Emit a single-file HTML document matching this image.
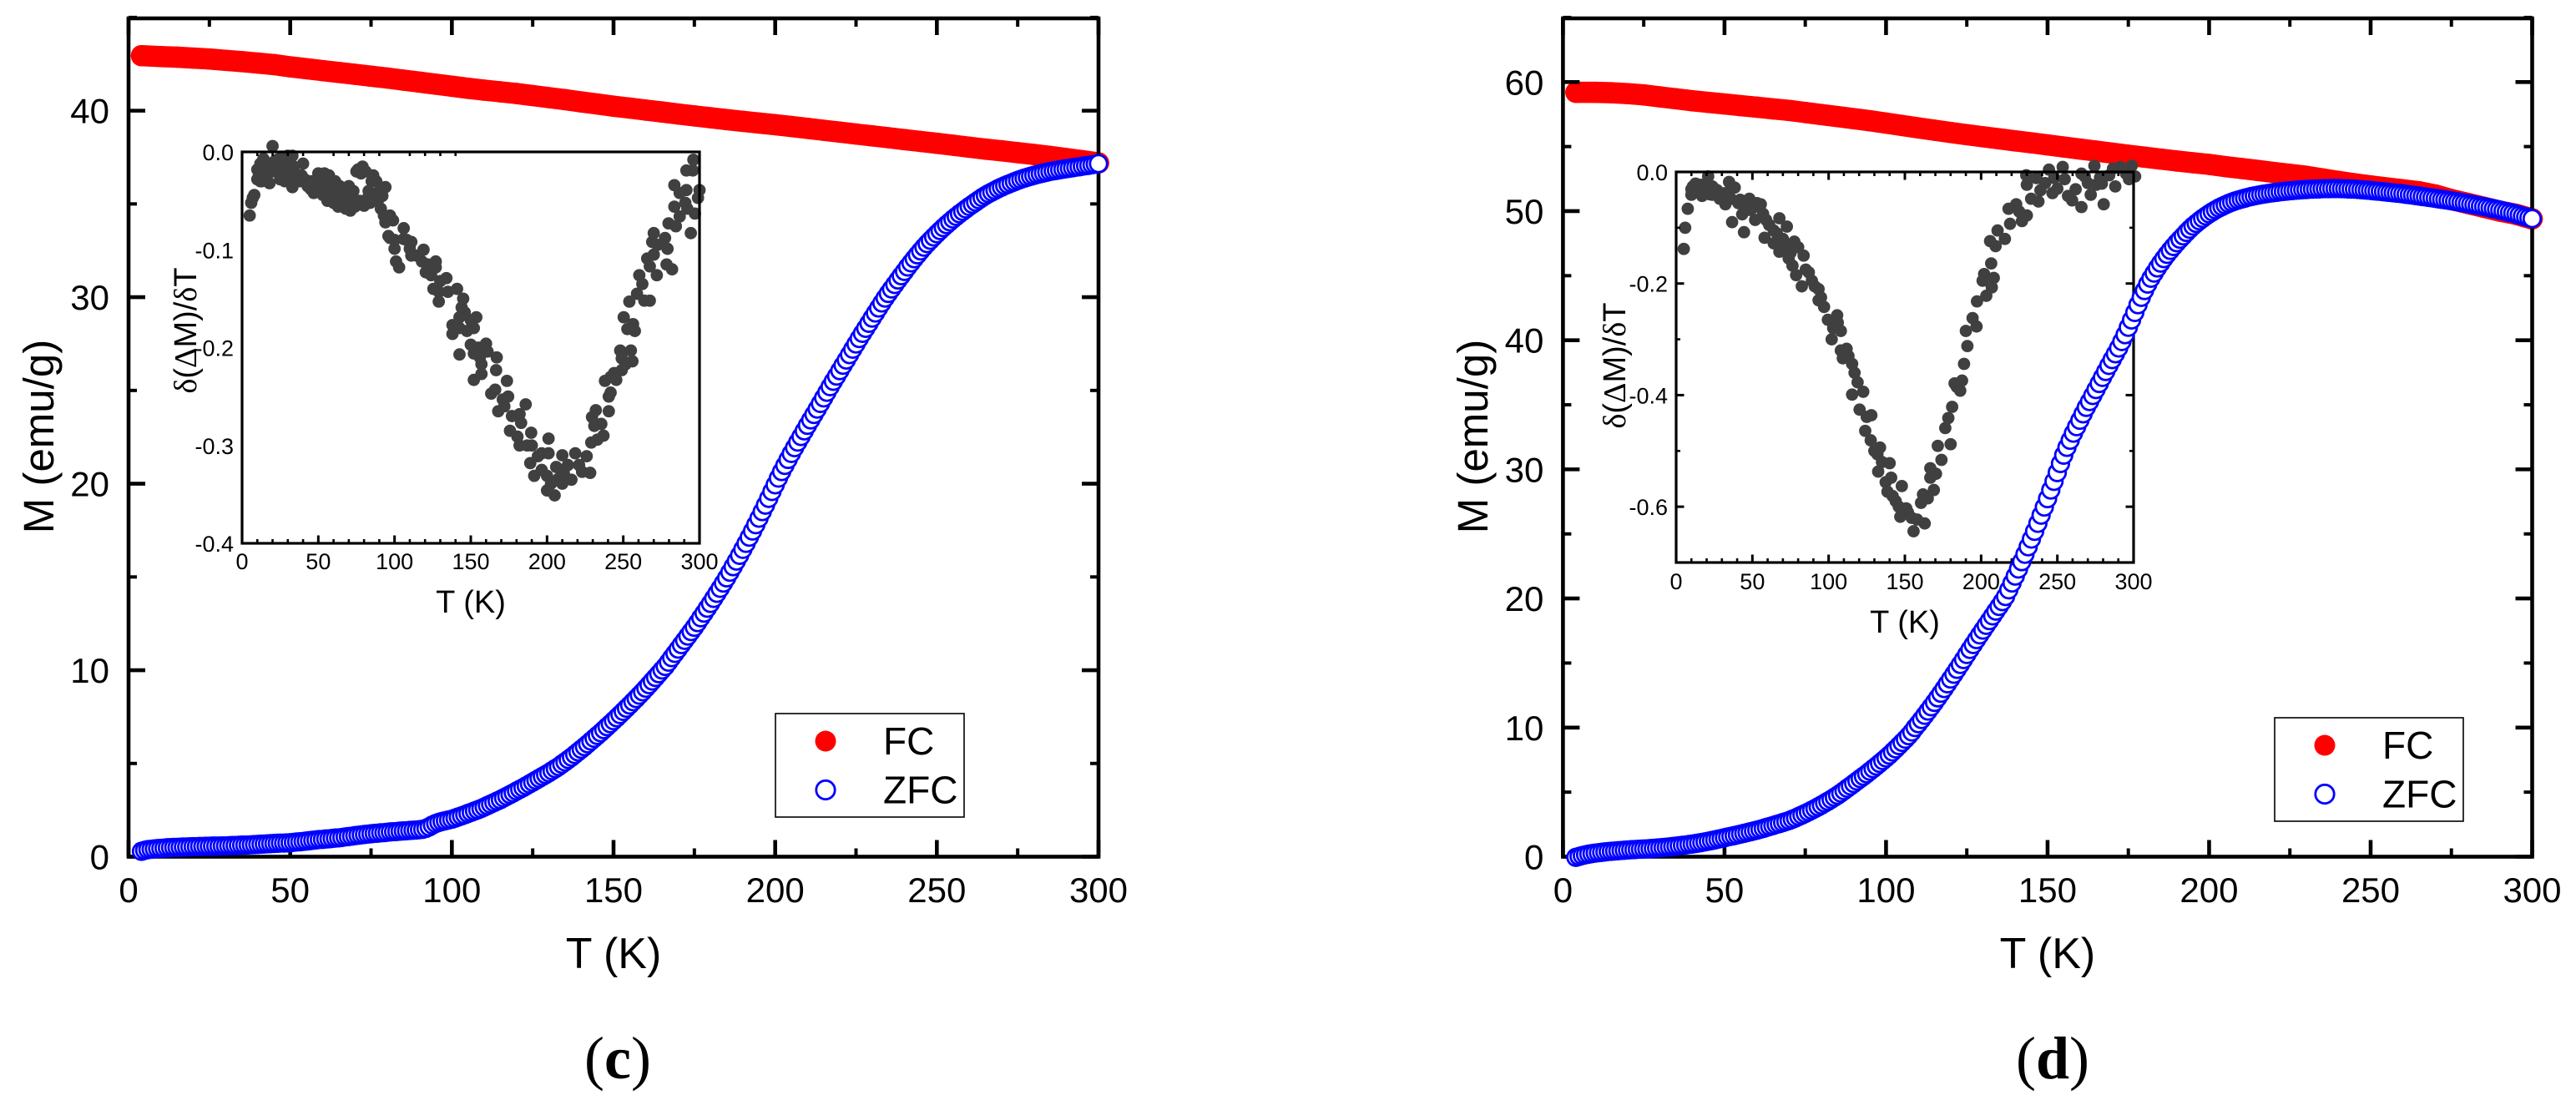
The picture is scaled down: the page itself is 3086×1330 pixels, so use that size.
<!DOCTYPE html>
<html lang="en">
<head>
<meta charset="utf-8">
<title>FC and ZFC magnetization, panels c and d</title>
<style>
html,body{margin:0;padding:0;background:#fff;}
svg{display:block;font-family:"Liberation Sans",sans-serif;}
.serif{font-family:"Liberation Serif",serif;}
</style>
</head>
<body>
<svg id="figure" xmlns="http://www.w3.org/2000/svg" width="3086" height="1330" viewBox="0 0 3086 1330">
<rect x="0" y="0" width="3086" height="1330" fill="#ffffff"/>
<text class="serif" x="740" y="1292" font-size="72" text-anchor="middle">(<tspan font-weight="bold">c</tspan>)</text>
<text class="serif" x="2459" y="1292" font-size="72" text-anchor="middle">(<tspan font-weight="bold">d</tspan>)</text>
</svg>
<script>
var mainXTicks = [0, 50, 100, 150, 200, 250, 300];
var mainXMinorTicks = [25, 75, 125, 175, 225, 275];
var cYTicks = [0, 10, 20, 30, 40];
var cYMinorTicks = [5, 15, 25, 35, 45];
var dYTicks = [0, 10, 20, 30, 40, 50, 60];
var dYMinorTicks = [5, 15, 25, 35, 45, 55, 65];
var insetXTicks = [0, 50, 100, 150, 200, 250, 300];
var insetXMinorTicks = [10, 20, 30, 40, 60, 70, 80, 90, 110, 120, 130, 140, 160, 170, 180, 190, 210, 220, 230, 240, 260, 270, 280, 290];
var cInsetTopTicks = [10, 20, 30, 40, 60, 70, 80, 90, 110, 120, 130, 140];
var cInsetYTicks = ["0.0", "-0.1", "-0.2", "-0.3", "-0.4"];
var dInsetYTicks = ["0.0", "-0.2", "-0.4", "-0.6"];
var dInsetYMinorTicks = [-0.1, -0.3, -0.5];

var fcTemperature = [4,10,15,20,25,30,35,40,45,50,55,60,65,70,75,80,85,90,95,100,105,110,115,120,125,130,135,140,145,150,155,160,165,170,175,180,185,190,195,200,205,210,215,220,225,230,235,240,245,250,255,260,265,270,275,280,285,290,295,300];
var fcMomentC = [42.95,42.9,42.87,42.82,42.77,42.7,42.63,42.55,42.47,42.35,42.25,42.15,42.05,41.95,41.85,41.75,41.64,41.53,41.42,41.31,41.2,41.1,41.01,40.92,40.81,40.7,40.59,40.47,40.36,40.24,40.14,40.03,39.93,39.82,39.72,39.62,39.52,39.43,39.34,39.25,39.15,39.05,38.95,38.85,38.75,38.65,38.55,38.45,38.35,38.25,38.15,38.04,37.94,37.85,37.75,37.65,37.55,37.43,37.32,37.2];
var fcMomentD = [59.2,59.2,59.17,59.1,59.0,58.85,58.7,58.55,58.42,58.3,58.17,58.05,57.92,57.8,57.64,57.48,57.32,57.16,57.0,56.82,56.63,56.45,56.27,56.09,55.92,55.76,55.6,55.44,55.29,55.13,54.97,54.81,54.65,54.49,54.33,54.18,54.03,53.88,53.75,53.62,53.45,53.3,53.15,53.0,52.85,52.7,52.5,52.3,52.12,51.95,51.8,51.65,51.5,51.25,50.9,50.6,50.3,50.0,49.75,49.4];

var zfcTemperature = [4,5,6,7,8,9,10,11,12,13,14,15,16,17,18,19,20,21,22,23,24,25,26,27,28,29,30,31,32,33,34,35,36,37,38,39,40,41,42,43,44,45,46,47,48,49,50,51,52,53,54,55,56,57,58,59,60,61,62,63,64,65,66,67,68,69,70,71,72,73,74,75,76,77,78,79,80,81,82,83,84,85,86,87,88,89,90,91,92,93,94,95,96,97,98,99,100,101,102,103,104,105,106,107,108,109,110,111,112,113,114,115,116,117,118,119,120,121,122,123,124,125,126,127,128,129,130,131,132,133,134,135,136,137,138,139,140,141,142,143,144,145,146,147,148,149,150,151,152,153,154,155,156,157,158,159,160,161,162,163,164,165,166,167,168,169,170,171,172,173,174,175,176,177,178,179,180,181,182,183,184,185,186,187,188,189,190,191,192,193,194,195,196,197,198,199,200,201,202,203,204,205,206,207,208,209,210,211,212,213,214,215,216,217,218,219,220,221,222,223,224,225,226,227,228,229,230,231,232,233,234,235,236,237,238,239,240,241,242,243,244,245,246,247,248,249,250,251,252,253,254,255,256,257,258,259,260,261,262,263,264,265,266,267,268,269,270,271,272,273,274,275,276,277,278,279,280,281,282,283,284,285,286,287,288,289,290,291,292,293,294,295,296,297,298,299,300];
var zfcMomentC = [.29,.34,.38,.40,.42,.44,.45,.46,.48,.49,.50,.50,.51,.52,.52,.53,.54,.54,.55,.55,.56,.56,.57,.57,.57,.58,.58,.59,.60,.60,.61,.62,.62,.63,.64,.65,.66,.67,.68,.69,.70,.71,.72,.73,.73,.74,.75,.77,.79,.80,.82,.84,.86,.88,.90,.92,.93,.95,.96,.98,1.00,1.01,1.03,1.06,1.08,1.10,1.13,1.15,1.17,1.19,1.21,1.23,1.25,1.26,1.28,1.29,1.31,1.33,1.34,1.35,1.37,1.38,1.39,1.41,1.42,1.43,1.45,1.47,1.52,1.60,1.70,1.78,1.84,1.89,1.93,1.97,2.01,2.07,2.13,2.19,2.25,2.32,2.38,2.45,2.51,2.58,2.66,2.74,2.82,2.90,2.98,3.06,3.15,3.24,3.33,3.42,3.52,3.61,3.70,3.80,3.90,4.00,4.10,4.20,4.30,4.40,4.50,4.61,4.72,4.83,4.96,5.08,5.21,5.34,5.48,5.62,5.76,5.90,6.05,6.20,6.35,6.50,6.65,6.81,6.97,7.13,7.29,7.45,7.62,7.79,7.96,8.13,8.31,8.48,8.66,8.84,9.03,9.22,9.42,9.61,9.81,10.01,10.2,10.43,10.67,10.9,11.13,11.37,11.6,11.83,12.07,12.3,12.55,12.81,13.06,13.32,13.58,13.85,14.12,14.39,14.67,14.95,15.25,15.55,15.85,16.16,16.48,16.8,17.13,17.46,17.8,18.15,18.5,18.85,19.21,19.58,19.94,20.3,20.65,20.98,21.3,21.62,21.93,22.23,22.53,22.83,23.13,23.42,23.71,24.0,24.3,24.6,24.9,25.2,25.49,25.77,26.06,26.35,26.63,26.92,27.21,27.49,27.78,28.06,28.33,28.6,28.88,29.15,29.42,29.69,29.95,30.2,30.44,30.68,30.92,31.15,31.38,31.62,31.84,32.06,32.27,32.48,32.68,32.87,33.05,33.23,33.4,33.57,33.73,33.89,34.04,34.19,34.33,34.47,34.6,34.73,34.86,34.98,35.1,35.22,35.34,35.45,35.55,35.64,35.73,35.82,35.9,35.98,36.05,36.12,36.19,36.26,36.32,36.38,36.43,36.48,36.53,36.58,36.62,36.66,36.7,36.74,36.77,36.8,36.83,36.86,36.89,36.91,36.94,36.97,36.99,37.02,37.05,37.07,37.1,37.13,37.16];
var zfcMomentD = [-.05,.02,.09,.15,.2,.24,.28,.31,.34,.37,.4,.42,.44,.46,.48,.5,.52,.54,.55,.57,.58,.6,.61,.63,.65,.67,.69,.71,.74,.76,.79,.82,.85,.88,.91,.95,.98,1.02,1.06,1.1,1.15,1.2,1.25,1.3,1.36,1.41,1.47,1.53,1.58,1.63,1.69,1.75,1.81,1.87,1.93,1.99,2.05,2.12,2.19,2.27,2.34,2.41,2.49,2.56,2.64,2.72,2.8,2.9,3.0,3.12,3.23,3.35,3.47,3.6,3.73,3.86,4.0,4.15,4.29,4.44,4.6,4.76,4.93,5.11,5.3,5.48,5.67,5.86,6.05,6.23,6.42,6.62,6.82,7.02,7.23,7.44,7.65,7.87,8.11,8.35,8.6,8.85,9.1,9.37,9.66,10.0,10.3,10.62,10.95,11.28,11.61,11.95,12.3,12.66,13.02,13.39,13.76,14.13,14.51,14.89,15.27,15.66,16.05,16.43,16.81,17.18,17.55,17.92,18.28,18.65,19.02,19.38,19.75,20.15,20.67,21.2,21.73,22.28,22.85,23.42,24.0,24.6,25.2,25.82,26.45,27.08,27.73,28.4,29.07,29.75,30.45,31.1,31.7,32.25,32.8,33.3,33.8,34.3,34.8,35.25,35.72,36.18,36.65,37.12,37.58,38.05,38.5,38.95,39.4,39.9,40.43,41.0,41.57,42.15,42.75,43.32,43.85,44.35,44.8,45.2,45.6,45.97,46.32,46.65,46.96,47.26,47.55,47.82,48.08,48.35,48.6,48.84,49.05,49.25,49.44,49.62,49.79,49.95,50.1,50.24,50.36,50.48,50.59,50.69,50.78,50.86,50.93,51.0,51.07,51.13,51.18,51.23,51.28,51.32,51.36,51.4,51.43,51.46,51.5,51.52,51.55,51.58,51.6,51.62,51.64,51.66,51.67,51.69,51.7,51.71,51.72,51.73,51.74,51.74,51.75,51.75,51.75,51.74,51.73,51.72,51.71,51.7,51.68,51.66,51.64,51.62,51.6,51.57,51.55,51.53,51.5,51.47,51.45,51.42,51.39,51.37,51.34,51.3,51.27,51.24,51.2,51.17,51.13,51.1,51.06,51.03,50.99,50.95,50.91,50.88,50.84,50.8,50.76,50.72,50.67,50.63,50.58,50.53,50.49,50.44,50.39,50.35,50.3,50.25,50.19,50.14,50.08,50.02,49.96,49.9,49.84,49.77,49.7,49.62,49.55,49.49,49.42];

var insetTemperatureC = [5,6,7,8,10,10,11,12,12,13,13,14,15,16,17,18,18,19,20,20,21,22,23,24,25,26,27,28,29,30,31,32,33,33,34,35,36,38,39,40,41,43,44,45,46,47,49,50,52,53,54,55,56,57,58,59,60,61,62,63,64,65,66,67,68,69,70,71,72,73,74,75,76,77,78,79,80,81,82,83,84,85,86,87,88,89,90,91,92,93,94,94,96,97,97,99,100,100,101,103,106,106,108,110,111,111,114.5,118,119,120.5,122,124,127,127,129,129,130,125.5,134,135,138,138,141,142.6,142.6,142.6,144,145,146,147.5,150,150,152,152,152,153.6,155,156,157,157,160,161,163.4,166,166.6,167,168,171,172,173.7,174.5,175.7,177,180.6,182,182,183,186,187,189,189.6,190,191.6,194,196.5,196.5,200,200,201,201,202.6,205,206,207.5,210,210,211,213.7,216,218.5,221,223,226,228.3,229,229.5,231,232,233,235.6,237,238,240.5,240.5,241.7,241.7,244,245.4,248,249,249,250.3,251.5,252.7,254,255,256,256.4,257.6,259,260.5,262.5,263.8,265.7,267.4,267.4,269,270,270,272,272.4,277.4,278.4,279,279.7,282,283.5,283.5,284.5,287,287,290.7,291.4,291.4,292,294.3,295.6,296,297,299,300];
var insetDerivativeC = [-.065,-.052,-.047,-.044,-.018,-.028,-.024,-.03,-.012,-.03,-.018,-.007,-.025,-.012,-.022,-.032,-.015,-.012,.006,-.02,-.01,-.016,-.008,-.02,-.028,-.005,-.012,-.03,-.018,-.004,-.012,-.024,-.036,-.004,-.015,-.026,-.03,-.03,-.024,-.012,-.028,-.035,-.03,-.038,-.03,-.042,-.038,-.022,-.028,-.044,-.022,-.035,-.05,-.024,-.04,-.03,-.052,-.03,-.045,-.056,-.035,-.043,-.05,-.04,-.058,-.045,-.035,-.06,-.05,-.04,-.056,-.02,-.018,-.05,-.022,-.015,-.055,-.02,-.048,-.04,-.052,-.03,-.024,-.045,-.03,-.05,-.04,-.058,-.045,-.065,-.036,-.072,-.086,-.065,-.088,-.07,-.09,-.099,-.112,-.118,-.078,-.089,-.09,-.099,-.092,-.106,-.106,-.112,-.1,-.123,-.115,-.126,-.112,-.118,-.143,-.153,-.132,-.14,-.129,-.143,-.177,-.186,-.14,-.169,-.18,-.207,-.159,-.15,-.164,-.183,-.172,-.197,-.18,-.206,-.233,-.169,-.2,-.21,-.217,-.227,-.196,-.204,-.247,-.243,-.223,-.21,-.265,-.253,-.26,-.234,-.25,-.285,-.27,-.291,-.268,-.3,-.277,-.258,-.3,-.318,-.287,-.3,-.331,-.311,-.308,-.325,-.346,-.331,-.293,-.308,-.339,-.351,-.322,-.334,-.31,-.339,-.328,-.32,-.335,-.308,-.32,-.327,-.311,-.328,-.297,-.271,-.28,-.264,-.294,-.278,-.29,-.234,-.265,-.25,-.246,-.23,-.226,-.233,-.203,-.223,-.211,-.169,-.217,-.181,-.153,-.203,-.214,-.176,-.183,-.145,-.126,-.135,-.152,-.109,-.152,-.117,-.092,-.105,-.083,-.126,-.095,-.088,-.115,-.099,-.073,-.12,-.056,-.034,-.076,-.066,-.042,-.052,-.039,-.019,-.058,-.083,-.019,-.008,-.063,-.047,-.039];

var insetTemperatureD = [5,5.9,7.6,10,10,11,12.7,14,15,16.4,17,19,20,21,22,23.7,23.7,25,27,28.6,30,32.3,32.3,34.7,36,36.7,38.4,40.8,42,43.3,44.5,46,48,48,50,51.8,53,55.5,57,58,59,61,64,64,66,67.7,67.7,70,71.4,72.6,73.8,75,76.3,77.5,78.7,80,82.4,83.6,85,87,89,90.9,93.4,93.4,95,97,99.5,102,103,105.6,106,108,108,109.3,111.8,113,115.4,115.4,117,119,120.3,122.7,124,125,127.6,128,130,132,132.5,133.7,135,137.4,138.6,140,141,142,144,146,147,148,149,150.9,152,154.5,155.7,158,160.6,161.9,163,165,166.7,166.7,169,170.4,171.6,174,176.5,178.5,180,181,182.6,184,186.3,187.5,188.8,190,191,194.4,197,197.3,201,202,203.4,205.9,206.6,207,208.3,209.5,210.8,215.6,218,219,223,225,226.8,229.6,230,230,232.8,236.4,237.6,238.9,242,244.5,246.8,248,250,253.5,254.8,257,259.7,262,265.8,265.8,268,270,271.9,274.3,275.5,278,279.2,280.4,284,286.5,288,291.4,295,297,298.8,301];
var insetDerivativeD = [-.138,-.1,-.066,-.031,-.041,-.026,-.021,-.033,-.03,-.023,-.043,-.036,-.028,-.008,-.04,-.026,-.041,-.03,-.033,-.048,-.04,-.038,-.058,-.018,-.048,-.09,-.028,-.056,-.05,-.076,-.108,-.06,-.048,-.068,-.065,-.086,-.056,-.058,-.075,-.118,-.086,-.095,-.105,-.128,-.11,-.083,-.143,-.12,-.135,-.098,-.155,-.145,-.168,-.125,-.185,-.135,-.205,-.15,-.175,-.18,-.195,-.205,-.21,-.23,-.225,-.242,-.265,-.3,-.28,-.257,-.27,-.285,-.32,-.334,-.317,-.33,-.344,-.399,-.36,-.377,-.426,-.394,-.464,-.439,-.481,-.436,-.5,-.506,-.537,-.494,-.52,-.556,-.573,-.522,-.548,-.581,-.59,-.6,-.618,-.563,-.61,-.603,-.61,-.62,-.644,-.623,-.593,-.578,-.63,-.585,-.548,-.531,-.57,-.541,-.491,-.516,-.459,-.441,-.488,-.421,-.379,-.385,-.392,-.374,-.344,-.285,-.312,-.262,-.277,-.232,-.195,-.183,-.222,-.124,-.164,-.207,-.19,-.133,-.105,-.12,-.066,-.093,-.058,-.071,-.088,-.006,-.023,-.078,-.048,-.011,-.053,-.033,-.02,.004,-.038,-.011,-.03,.009,-.013,-.043,-.051,-.031,-.003,-.063,-.008,-.02,-.041,.011,-.023,-.01,-.021,-.058,-.006,.006,-.026,.009,-.003,-.013,.011,-.008];

var NS = 'http://www.w3.org/2000/svg';
var svgRoot = document.getElementById('figure');
var FONT_SERIF = '"Liberation Serif",serif';

function create(tag, parent) {
  var node = document.createElementNS(NS, tag);
  parent.appendChild(node);
  return node;
}

function line(parent, x1, y1, x2, y2, width, name) {
  var el = create('line', parent);
  
  
  el.setAttribute('x1', x1);
  el.setAttribute('y1', y1);
  el.setAttribute('x2', x2);
  el.setAttribute('y2', y2);
  el.setAttribute('stroke', '#000');
  el.setAttribute('stroke-width', width);
}

function label(parent, content, x, y, size, anchor, name) {
  var el = create('text', parent);
  
  
  el.setAttribute('x', x);
  el.setAttribute('y', y);
  el.setAttribute('font-size', size);
  el.setAttribute('text-anchor', anchor);
  el.textContent = content;
  return el;
}

function frame(parent, left, top, right, bottom, width, name) {
  var el = create('rect', parent);
  
  
  el.setAttribute('x', left);
  el.setAttribute('y', top);
  el.setAttribute('width', right - left);
  el.setAttribute('height', bottom - top);
  el.setAttribute('fill', 'none');
  el.setAttribute('stroke', '#000');
  el.setAttribute('stroke-width', width);
}

function circle(parent, cx, cy, r, fill, stroke, strokeWidth, name) {
  var el = create('circle', parent);
  
  
  el.setAttribute('cx', cx);
  el.setAttribute('cy', cy);
  el.setAttribute('r', r);
  el.setAttribute('fill', fill);
  if (stroke) {
    el.setAttribute('stroke', stroke);
    el.setAttribute('stroke-width', strokeWidth);
  }
}

function drawPanel(cfg) {
  var g = create('g', svgRoot);
  
  
  function xAxis(t) { return cfg.left + t * (cfg.right - cfg.left) / 300; }
  function yAxis(m) { return cfg.bottom - m * (cfg.bottom - cfg.top) / cfg.yMax; }
  var i;

  var fcGroup = create('g', g);
  
  
  var band = create('polyline', fcGroup);
  
  
  var bandPoints = [];
  for (i = 0; i < fcTemperature.length; i++) {
    bandPoints.push(xAxis(fcTemperature[i]).toFixed(1) + ',' + yAxis(cfg.fc[i]).toFixed(1));
  }
  band.setAttribute('points', bandPoints.join(' '));
  band.setAttribute('fill', 'none');
  band.setAttribute('stroke', '#ff0000');
  band.setAttribute('stroke-width', 25.5);
  band.setAttribute('stroke-linecap', 'round');
  band.setAttribute('stroke-linejoin', 'round');
  for (i = 0; i < fcTemperature.length; i++) {
    circle(fcGroup, xAxis(fcTemperature[i]), yAxis(cfg.fc[i]), 12.75, '#ff0000', null, 0, 'fc-point');
  }

  drawInset(g, cfg.inset);

  frame(g, cfg.left, cfg.top, cfg.right, cfg.bottom, 4.6, 'plot-frame');

  for (i = 0; i < mainXTicks.length; i++) {
    var xt = xAxis(mainXTicks[i]);
    line(g, xt, cfg.bottom, xt, cfg.bottom - 20, 4.6, 'x-tick-bottom');
    line(g, xt, cfg.top, xt, cfg.top + 20, 4.6, 'x-tick-top');
    label(g, String(mainXTicks[i]), xt, 1081, 42, 'middle', 'x-tick-label');
  }
  for (i = 0; i < mainXMinorTicks.length; i++) {
    var xm = xAxis(mainXMinorTicks[i]);
    line(g, xm, cfg.bottom, xm, cfg.bottom - 10, 4, 'x-minor-tick-bottom');
    line(g, xm, cfg.top, xm, cfg.top + 10, 4, 'x-minor-tick-top');
  }
  for (i = 0; i < cfg.yTicks.length; i++) {
    var yt = yAxis(cfg.yTicks[i]);
    line(g, cfg.left, yt, cfg.left + 20, yt, 4.6, 'y-tick-left');
    line(g, cfg.right, yt, cfg.right - 20, yt, 4.6, 'y-tick-right');
    label(g, String(cfg.yTicks[i]), cfg.left - 23, yt + 15, 42, 'end', 'y-tick-label');
  }
  for (i = 0; i < cfg.yMinor.length; i++) {
    var ym = yAxis(cfg.yMinor[i]);
    line(g, cfg.left, ym, cfg.left + 10, ym, 4, 'y-minor-tick-left');
    line(g, cfg.right, ym, cfg.right - 10, ym, 4, 'y-minor-tick-right');
  }

  var zfcGroup = create('g', g);
  
  
  for (i = 0; i < zfcTemperature.length; i++) {
    circle(zfcGroup, xAxis(zfcTemperature[i]), yAxis(cfg.zfc[i]), 10.2, '#ffffff', '#0000ff', 2.8, 'zfc-point');
  }

  label(g, 'T (K)', (cfg.left + cfg.right) / 2, 1160, 52, 'middle', 'x-axis-title');
  var yTitle = label(g, 'M (emu/g)', 0, 0, 51, 'middle', 'y-axis-title');
  yTitle.setAttribute('transform', 'translate(' + cfg.yTitleX + ',523) rotate(-90)');

  var legend = create('g', g);
  
  
  var box = create('rect', legend);
  
  
  box.setAttribute('x', cfg.legend.x);
  box.setAttribute('y', cfg.legend.y);
  box.setAttribute('width', 226);
  box.setAttribute('height', 124);
  box.setAttribute('fill', '#fff');
  box.setAttribute('stroke', '#000');
  box.setAttribute('stroke-width', 1.6);
  circle(legend, cfg.legend.x + 60, cfg.legend.y + 33, 12.5, '#ff0000', null, 0, 'legend-marker-fc');
  circle(legend, cfg.legend.x + 60, cfg.legend.y + 91.5, 11.2, '#ffffff', '#0000ff', 2.8, 'legend-marker-zfc');
  label(legend, 'FC', cfg.legend.x + 129, cfg.legend.y + 49, 46, 'start', 'legend-label-fc');
  label(legend, 'ZFC', cfg.legend.x + 129, cfg.legend.y + 107.5, 46, 'start', 'legend-label-zfc');
}

function drawInset(parent, c) {
  var g = create('g', parent);
  
  
  function xAxis(t) { return c.left + t * (c.right - c.left) / 300; }
  function yAxis(v) { return c.top - v * (c.bottom - c.top) / c.yRange; }
  var i;
  var dots = create('g', g);
  
  
  for (i = 0; i < c.temps.length; i++) {
    circle(dots, xAxis(c.temps[i]), yAxis(c.values[i]), 7.4, '#404040', null, 0, 'inset-point');
  }
  frame(g, c.left, c.top, c.right, c.bottom, 3.2, 'inset-frame');
  for (i = 0; i < insetXTicks.length; i++) {
    var xt = xAxis(insetXTicks[i]);
    line(g, xt, c.bottom, xt, c.bottom - 9.5, 3, 'inset-x-tick');
    if (c.fullTicks) {
      line(g, xt, c.top, xt, c.top + 9.5, 3, 'inset-x-tick-top');
    }
    label(g, String(insetXTicks[i]), xt, c.tickBaseline, 27, 'middle', 'inset-x-tick-label');
  }
  for (i = 0; i < insetXMinorTicks.length; i++) {
    var xm = xAxis(insetXMinorTicks[i]);
    line(g, xm, c.bottom, xm, c.bottom - 5, 2.6, 'inset-x-minor-tick');
    if (c.fullTicks) {
      line(g, xm, c.top, xm, c.top + 5, 2.6, 'inset-x-minor-tick-top');
    }
  }
  for (i = 0; i < c.topTicks.length; i++) {
    var xu = xAxis(c.topTicks[i]);
    line(g, xu, c.top, xu, c.top + 5, 2.6, 'inset-x-minor-tick-top');
  }
  for (i = 0; i < c.yTicks.length; i++) {
    var yt = yAxis(parseFloat(c.yTicks[i]));
    if (c.fullTicks) {
      line(g, c.left, yt, c.left + 9.5, yt, 3, 'inset-y-tick-left');
      line(g, c.right, yt, c.right - 9.5, yt, 3, 'inset-y-tick-right');
    }
    label(g, c.yTicks[i], c.left - 10, yt + 10, 27, 'end', 'inset-y-tick-label');
  }
  for (i = 0; i < c.yMinor.length; i++) {
    var ym = yAxis(c.yMinor[i]);
    line(g, c.left, ym, c.left + 5, ym, 2.6, 'inset-y-minor-tick-left');
    line(g, c.right, ym, c.right - 5, ym, 2.6, 'inset-y-minor-tick-right');
  }
  label(g, 'T (K)', c.titleX, c.titleBaseline, 38, 'middle', 'inset-x-axis-title');
  var yTitle = create('text', g);
  
  
  yTitle.setAttribute('font-size', 38);
  yTitle.setAttribute('text-anchor', 'middle');
  yTitle.setAttribute('transform', 'translate(' + c.yTitleX + ',' + c.yTitleY + ') rotate(-90)');
  var parts = ['\u03B4', '(', '\u0394', 'M)/', '\u03B4', 'T'];
  for (i = 0; i < parts.length; i++) {
    var span = create('tspan', yTitle);
    if (parts[i] === '\u03B4' || parts[i] === '\u0394') {
      span.setAttribute('font-family', FONT_SERIF);
    }
    span.textContent = parts[i];
  }
}

drawPanel({
  id: 'c', left: 154, right: 1316, top: 22, bottom: 1026.5, yMax: 44.95,
  fc: fcMomentC, zfc: zfcMomentC, yTicks: cYTicks, yMinor: cYMinorTicks,
  yTitleX: 64, legend: { x: 929, y: 855 },
  inset: {
    id: 'c', left: 290, right: 838, top: 182, bottom: 651, yRange: 0.4,
    temps: insetTemperatureC, values: insetDerivativeC,
    yTicks: cInsetYTicks, yMinor: [], topTicks: cInsetTopTicks, fullTicks: false,
    tickBaseline: 682, titleX: 564, titleBaseline: 734, yTitleX: 235, yTitleY: 396
  }
});
drawPanel({
  id: 'd', left: 1872.4, right: 3033.5, top: 22, bottom: 1026.5, yMax: 64.93,
  fc: fcMomentD, zfc: zfcMomentD, yTicks: dYTicks, yMinor: dYMinorTicks,
  yTitleX: 1782, legend: { x: 2725, y: 860 },
  inset: {
    id: 'd', left: 2008, right: 2556, top: 206, bottom: 674, yRange: 0.7,
    temps: insetTemperatureD, values: insetDerivativeD,
    yTicks: dInsetYTicks, yMinor: dInsetYMinorTicks, topTicks: [], fullTicks: true,
    tickBaseline: 706, titleX: 2282, titleBaseline: 758, yTitleX: 1947, yTitleY: 438
  }
});
</script>
</body>
</html>
